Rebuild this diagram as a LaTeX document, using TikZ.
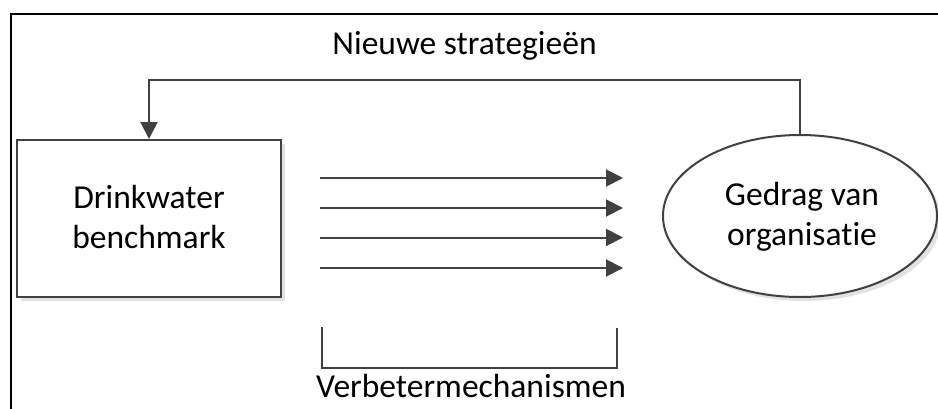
\documentclass[tikz,border=0pt]{standalone}
\usepackage{fontspec}
\setmainfont{Carlito}[RawFeature={-liga;-clig}]
\usetikzlibrary{arrows.meta,shapes.geometric}
\definecolor{ln}{HTML}{404040}
\definecolor{shd}{HTML}{E2E2E2}
\tikzset{
  lbl/.style={font=\fontsize{33.5}{40}\selectfont, text=black, inner sep=0pt, anchor=base},
  conn/.style={draw=ln, line width=2pt, -{Triangle[length=17pt,width=17pt]}},
  plain/.style={draw=ln, line width=2pt},
  boxshape/.style={draw=ln, line width=2pt, fill=white, minimum width=264pt, minimum height=157pt, inner sep=0pt},
  ellshape/.style={ellipse, draw=ln, line width=2pt, fill=white, minimum width=274pt, minimum height=162pt, inner sep=0pt}
}
\begin{document}
\begin{tikzpicture}[x=1pt,y=-1pt]
\useasboundingbox (0,0) rectangle (938,408);
\begin{scope}
\clip (0,0) rectangle (938,408);
\draw[black, line width=2pt] (11,14) rectangle (960,440);
\end{scope}
% shadows
\fill[shd] (21,144) rectangle (285,301);
\fill[shd] (804,220) ellipse [x radius=137pt, y radius=81pt];
% nodes
\node[boxshape] (box) at (149,218.5) {};
\node[ellshape] (ell) at (800,216) {};
% texts
\node[lbl] (boxl1) at (149,208.5) {Drinkwater};
\node[lbl] (boxl2) at (149,248.5) {benchmark};
\node[lbl] (elll1) at (802,205.5) {Gedrag van};
\node[lbl] (elll2) at (802,245.5) {organisatie};
% feedback
\draw[conn] (ell.north) -- (ell.north |- 0,80) -| (box.north);
\node[lbl] (fb) at (464.5,54) {Nieuwe strategieën};
% arrows
\coordinate (s1) at (320,178); \coordinate (e1) at (623,178);
\coordinate (s2) at (320,208); \coordinate (e2) at (623,208);
\coordinate (s3) at (320,237.5); \coordinate (e3) at (623,237.5);
\coordinate (s4) at (320,268); \coordinate (e4) at (623,268);
\draw[conn] (s1) -- (e1);
\draw[conn] (s2) -- (e2);
\draw[conn] (s3) -- (e3);
\draw[conn] (s4) -- (e4);
% bracket
\coordinate (b1) at (322,327);
\coordinate (b2) at (617,328);
\draw[plain] (b1) -- (b1 |- 0,368) -- (b2 |- 0,368) -- (b2);
\node[lbl] (vm) at (471,397.5) {Verbetermechanismen};
\end{tikzpicture}
\end{document}
